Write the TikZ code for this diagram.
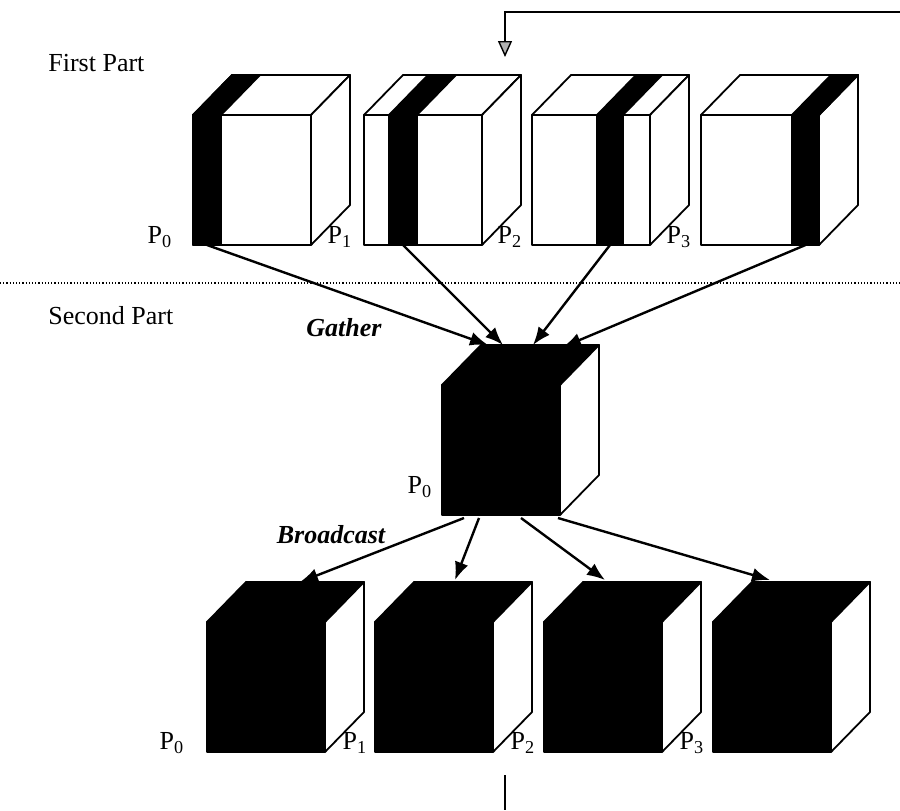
\documentclass[tikz,border=0pt]{standalone}
\usepackage{fontspec}
\setmainfont{Liberation Serif}
\usetikzlibrary{arrows.meta}
\tikzstyle{face}=[draw, line width=0.9pt, line join=round]
\tikzstyle{plabel}=[inner sep=0pt, font=\fontsize{13}{15}\selectfont]
\tikzstyle{partlabel}=[anchor=west, inner sep=0pt, font=\fontsize{13}{15}\selectfont]
\tikzstyle{oplabel}=[inner sep=0pt, font=\fontsize{13}{15}\selectfont\bfseries\itshape]
\tikzstyle{msg}=[line width=1.2pt, -{Latex[length=9pt,width=7pt]}]
\tikzstyle{loop}=[line width=0.7pt]
% cube with one black slice: name, front corner, slice edges
\newcommand{\slicecube}[5]{
  \begin{scope}[shift={(#2,#3)}]
    \filldraw[face, fill=white] (0,0) rectangle (118,130);
    \filldraw[face, fill=white] (0,0) -- (39,-40) -- (157,-40) -- (118,0) -- cycle;
    \filldraw[face, fill=white] (118,0) -- (157,-40) -- (157,90) -- (118,130) -- cycle;
    \filldraw[face, fill=black] (#4,0) rectangle (#5,130);
    \filldraw[face, fill=black] (#4,0) -- (#4+39,-40) -- (#5+39,-40) -- (#5,0) -- cycle;
    \coordinate (#1) at ({(#4+#5)/2},130);
  \end{scope}}
% full cube after the gather
\newcommand{\fullcube}[3]{
  \begin{scope}[shift={(#2,#3)}]
    \filldraw[face, fill=black] (0,0) rectangle (118,130);
    \filldraw[face, fill=black] (0,0) -- (39,-40) -- (157,-40) -- (118,0) -- cycle;
    \filldraw[face, fill=white] (118,0) -- (157,-40) -- (157,90) -- (118,130) -- cycle;
    \coordinate (#1) at (59,65);
  \end{scope}}

\begin{document}
\begin{tikzpicture}[x=0.5pt, y=-0.5pt]
\useasboundingbox (0,0) rectangle (900,810);

\node[partlabel] (first) at (48,63) {First Part};
\node[partlabel] (second) at (48,316) {Second Part};
\draw[densely dotted, line width=0.6pt] (0,283) -- (900,283);

% first part
\slicecube{s0}{193}{115}{0}{28}
\slicecube{s1}{364}{115}{25}{53}
\slicecube{s2}{532}{115}{65}{91}
\slicecube{s3}{701}{115}{91}{118}
\node[plabel] (a0) at (160,237) {P\textsubscript{0}};
\node[plabel] (a1) at (340,237) {P\textsubscript{1}};
\node[plabel] (a2) at (510,237) {P\textsubscript{2}};
\node[plabel] (a3) at (679,237) {P\textsubscript{3}};

% second part
\fullcube{root}{442}{385}
\node[plabel] (r0) at (420,487) {P\textsubscript{0}};
\fullcube{b0}{207}{622}
\fullcube{b1}{375}{622}
\fullcube{b2}{544}{622}
\fullcube{b3}{713}{622}
\node[plabel] (c0) at (172,743) {P\textsubscript{0}};
\node[plabel] (c1) at (355,743) {P\textsubscript{1}};
\node[plabel] (c2) at (523,743) {P\textsubscript{2}};
\node[plabel] (c3) at (692,743) {P\textsubscript{3}};

\node[oplabel] (gather) at (344,328) {Gather};
\node[oplabel] (bcast) at (331,535) {Broadcast};

\coordinate (g0) at (488,345);
\coordinate (g1) at (503,345);
\coordinate (g2) at (533,345);
\coordinate (g3) at (563,347);
\coordinate (o0) at (464,518);
\coordinate (o1) at (479,518);
\coordinate (o2) at (521,518);
\coordinate (o3) at (558,518);
\coordinate (t0) at (300,582);
\coordinate (t1) at (455,580);
\coordinate (t2) at (605,580);
\coordinate (t3) at (770,580);

\draw[msg] (s0) -- (g0);
\draw[msg] (s1) -- (g1);
\draw[msg] (s2) -- (g2);
\draw[msg] (s3) -- (g3);
\draw[msg] (o0) -- (t0);
\draw[msg] (o1) -- (t1);
\draw[msg] (o2) -- (t2);
\draw[msg] (o3) -- (t3);

% loop back to the first part
\coordinate (lr) at (900,12);
\coordinate (lc) at (505,12);
\coordinate (lt) at (505,57);
\coordinate (ls) at (505,775);
\coordinate (le) at (505,810);
\draw[loop, -{Triangle[length=8pt,width=7pt,fill=gray!60]}] (lr) -- (lc) -- (lt);
\draw[loop] (ls) -- (le);
\end{tikzpicture}
\end{document}
